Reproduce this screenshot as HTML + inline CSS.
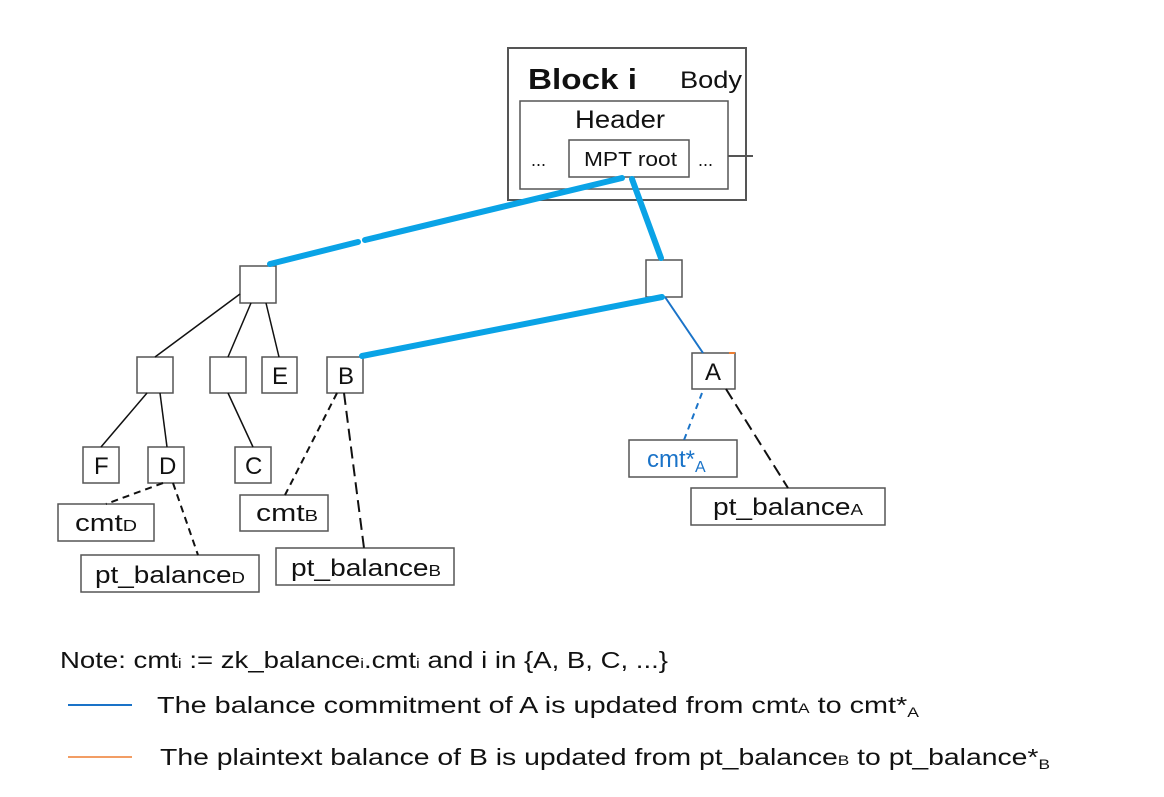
<!DOCTYPE html>
<html><head><meta charset="utf-8"><style>
body{margin:0;background:#fff;}
svg text{font-family:"Liberation Sans",sans-serif;}
</style></head><body>
<svg width="1164" height="792" viewBox="0 0 1164 792" xmlns="http://www.w3.org/2000/svg">
<g fill="#fff" stroke="#555" stroke-width="1.5">
<rect x="508" y="48" width="238" height="152" stroke-width="2"/>
<rect x="520" y="101" width="208" height="88"/>
<rect x="569" y="140" width="120" height="37"/>
<rect x="240" y="266" width="36" height="37"/>
<rect x="646" y="260" width="36" height="37"/>
<rect x="137" y="357" width="36" height="36"/>
<rect x="210" y="357" width="36" height="36"/>
<rect x="262" y="357" width="35" height="36"/>
<rect x="327" y="357" width="36" height="36"/>
<rect x="692" y="353" width="43" height="36"/>
<rect x="83" y="447" width="36" height="36"/>
<rect x="148" y="447" width="36" height="36"/>
<rect x="235" y="447" width="36" height="36"/>
<rect x="58" y="504" width="96" height="37"/>
<rect x="81" y="555" width="178" height="37"/>
<rect x="240" y="495" width="88" height="36"/>
<rect x="276" y="548" width="178" height="37"/>
<rect x="629" y="440" width="108" height="37"/>
<rect x="691" y="488" width="194" height="37"/>
</g>
<line x1="728" y1="156" x2="753" y2="156" stroke="#555" stroke-width="2"/>
<g stroke="#111" stroke-width="1.5">
<line x1="240" y1="294" x2="155" y2="357"/>
<line x1="251" y1="303" x2="228" y2="357"/>
<line x1="266" y1="303" x2="279" y2="357"/>
<line x1="147" y1="393" x2="101" y2="447"/>
<line x1="160" y1="393" x2="167" y2="447"/>
<line x1="228" y1="393" x2="253" y2="447"/>
</g>
<g stroke="#111" stroke-width="2" stroke-dasharray="7,5">
<line x1="163" y1="483" x2="106" y2="504"/>
<line x1="173" y1="483" x2="198" y2="555"/>
<line x1="337" y1="393" x2="285" y2="495"/>
<line x1="344" y1="393" x2="364" y2="548" stroke-dasharray="12,6"/>
<line x1="726" y1="389" x2="788" y2="488" stroke-dasharray="12,6"/>
</g>
<line x1="702" y1="393" x2="684" y2="440" stroke="#1a73c8" stroke-width="2" stroke-dasharray="6,5"/>
<line x1="665" y1="297" x2="703" y2="353" stroke="#1a73c8" stroke-width="2"/>
<g stroke="#0aa3e6" stroke-width="6" stroke-linecap="round">
<line x1="622" y1="178" x2="365" y2="240"/>
<line x1="358" y1="242" x2="270" y2="264"/>
<line x1="632" y1="179" x2="661" y2="258"/>
<line x1="662" y1="297" x2="362" y2="356"/>
</g>
<g font-size="24" fill="#111">
<text x="528" y="89" font-size="29" font-weight="bold" textLength="109" lengthAdjust="spacingAndGlyphs">Block i</text>
<text x="680" y="88" textLength="62" lengthAdjust="spacingAndGlyphs">Body</text>
<text x="575" y="128" font-size="25" textLength="90" lengthAdjust="spacingAndGlyphs">Header</text>
<text x="531" y="166" font-size="18">...</text>
<text x="698" y="166" font-size="18">...</text>
<text x="584" y="166" font-size="20" textLength="93" lengthAdjust="spacingAndGlyphs">MPT root</text>
<text x="272" y="384">E</text>
<text x="338" y="384">B</text>
<text x="705" y="380">A</text>
<text x="94" y="474">F</text>
<text x="159" y="474">D</text>
<text x="245" y="474">C</text>
<text x="75" y="531" textLength="62" lengthAdjust="spacingAndGlyphs">cmt<tspan font-size="16">D</tspan></text>
<text x="95" y="583" textLength="150" lengthAdjust="spacingAndGlyphs">pt_balance<tspan font-size="16">D</tspan></text>
<text x="256" y="521" textLength="62" lengthAdjust="spacingAndGlyphs">cmt<tspan font-size="16">B</tspan></text>
<text x="291" y="576" textLength="150" lengthAdjust="spacingAndGlyphs">pt_balance<tspan font-size="16">B</tspan></text>
<text x="647" y="467" fill="#1a73c8">cmt*<tspan font-size="16" dy="5">A</tspan></text>
<text x="713" y="515" textLength="150" lengthAdjust="spacingAndGlyphs">pt_balance<tspan font-size="16">A</tspan></text>
</g>
<g font-size="23" fill="#111">
<text x="60" y="668" textLength="608" lengthAdjust="spacingAndGlyphs">Note: cmt<tspan font-size="14">i</tspan> := zk_balance<tspan font-size="14">i</tspan>.cmt<tspan font-size="14">i</tspan> and i in {A, B, C, ...}</text>
<text x="157" y="713" textLength="762" lengthAdjust="spacingAndGlyphs">The balance commitment of A is updated from cmt<tspan font-size="14">A</tspan> to cmt*<tspan font-size="14" dy="4">A</tspan></text>
<text x="160" y="765" textLength="890" lengthAdjust="spacingAndGlyphs">The plaintext balance of B is updated from pt_balance<tspan font-size="14">B</tspan> to pt_balance*<tspan font-size="14" dy="4">B</tspan></text>
</g>
<line x1="68" y1="705" x2="132" y2="705" stroke="#1a73c8" stroke-width="2"/>
<line x1="68" y1="757" x2="132" y2="757" stroke="#ed7d31" stroke-width="1.5"/>
<line x1="729" y1="353" x2="735" y2="353" stroke="#ed7d31" stroke-width="2"/>
</svg>
</body></html>
